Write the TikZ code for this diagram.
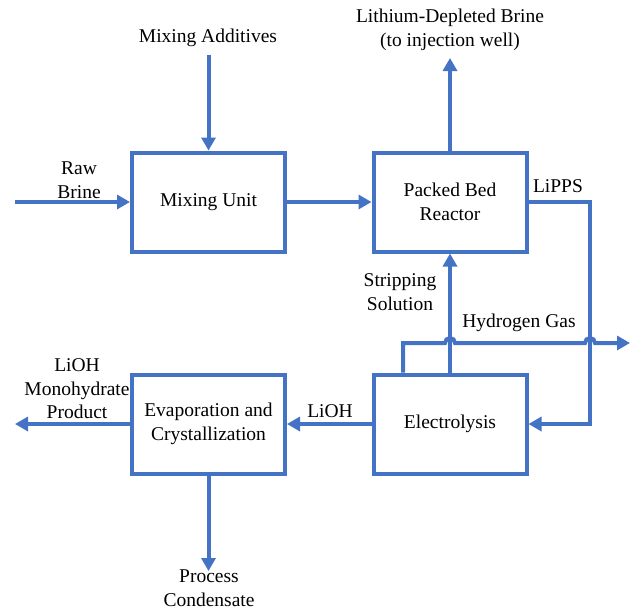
\documentclass[tikz,border=0pt]{standalone}
\usepackage{fontspec}
\setmainfont{LiberationSerif}[Extension=.ttf, UprightFont=*-Regular, BoldFont=*-Bold]
\usetikzlibrary{arrows.meta, positioning, calc}
\definecolor{flowblue}{RGB}{68,114,196}

\begin{document}
\begin{tikzpicture}[x=1pt, y=-1pt,
  font=\fontsize{19.5}{23.5}\selectfont,
  unit/.style={draw=flowblue, line width=4pt, minimum width=153pt, minimum height=99pt, align=center, inner sep=0pt},
  flow/.style={flowblue, line width=4pt, -{Triangle[length=13pt,width=14pt]}},
  lbl/.style={align=center, inner sep=0pt}]
  \useasboundingbox (0,0) rectangle (630,611);
  % Units
  \node[unit] (mix) at (208.5,202) {Mixing Unit};
  \node[unit] (pbr) at (450,202) {Packed Bed\\Reactor};
  \node[unit] (elec) at (450,424) {Electrolysis};
  \node[unit] (evap) at (208.5,424) {Evaporation and\\Crystallization};
  % Free ends
  \coordinate (rawin) at (15,202);
  \coordinate (addin) at (208.5,55);
  \coordinate (brineout) at (450,58);
  \coordinate (prodout) at (15,424);
  \coordinate (condout) at (208.5,571);
  \coordinate (h2out) at (630,343);
  \coordinate (h2start) at (403,424);
  \coordinate (h2y) at (0,343);
  \coordinate (lippsx) at (590,300);
  % Streams
  \draw[flow] (rawin) -- (mix.west);
  \draw[flow] (addin) -- (mix.north);
  \draw[flow] (mix) -- (pbr);
  \draw[flow] (pbr) -- (brineout);
  \draw[flow] (pbr.east) -| (lippsx) |- (elec.east);
  \draw[flow] (elec) -- (pbr);
  \draw[flow] (elec) -- (evap);
  \draw[flow] (evap.west) -- (prodout);
  \draw[flow] (evap) -- (condout);
  % Hydrogen line with hops
  \draw[flow] (h2start |- elec.north) |- ([xshift=-5pt]elec.north |- h2y)
    arc[start angle=180, end angle=0, radius=5pt]
    -- ([xshift=-5pt]lippsx |- h2y)
    arc[start angle=180, end angle=0, radius=5pt] -- (h2out);
  % Labels
  \node[lbl] (rawlbl) at (79,180) {Raw\\Brine};
  \node[lbl] (addlbl) at (208,38) {Mixing Additives};
  \node[lbl] (brinelbl) at (450,30) {Lithium-Depleted Brine\\(to injection well)};
  \node[lbl] (lippslbl) at (558,186) {LiPPS};
  \node[lbl] (striplbl) at (400,292) {Stripping\\Solution};
  \node[lbl] (h2lbl) at (519,323) {Hydrogen Gas};
  \node[lbl] (liohlbl) at (330,411) {LiOH};
  \node[lbl] (prodlbl) at (77,389) {LiOH\\Monohydrate\\Product};
  \node[lbl] (condlbl) at (209,588) {Process\\Condensate};
\end{tikzpicture}
\end{document}
